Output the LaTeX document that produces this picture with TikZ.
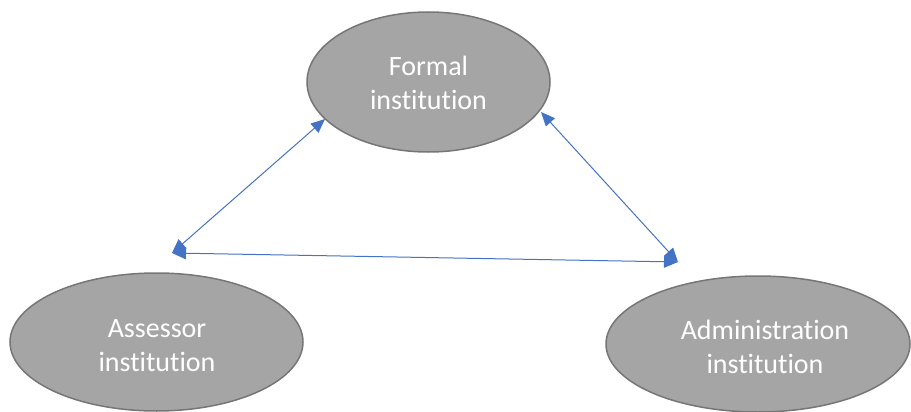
\documentclass[tikz,border=0pt]{standalone}
\usepackage{fontspec}
\setmainfont[Ligatures=NoCommon]{Carlito}
\usetikzlibrary{shapes.geometric,arrows.meta}
\definecolor{ellfill}{HTML}{A5A5A5}
\definecolor{elldraw}{HTML}{767676}
\definecolor{arrblue}{HTML}{4472C4}
\begin{document}
\begin{tikzpicture}[x=1pt,y=-1pt,
  inst/.style={ellipse, draw=elldraw, fill=ellfill, line width=1.5pt, inner sep=0pt},
  lbl/.style={text=white, align=center, font=\fontsize{28}{34}\selectfont, inner sep=0pt},
  link/.style={draw=arrblue, line width=1pt,
    {Triangle[length=14pt,width=12pt]}-{Triangle[length=14pt,width=12pt]}}]
\useasboundingbox (0,0) rectangle (911,412);
\node[inst, minimum width=243pt, minimum height=140pt] (formal) at (428.5,82) {};
\node[inst, minimum width=293pt, minimum height=138pt] (assessor) at (156.5,342) {};
\node[inst, minimum width=304pt, minimum height=136pt] (admin) at (758,344) {};
\node[lbl] (tformal) at (428.5,83) {Formal\\institution};
\node[lbl] (tassessor) at (157,346) {Assessor\\institution};
\node[lbl] (tadmin) at (765,347) {Administration\\institution};
\coordinate (ftl) at (325,119);
\coordinate (ftr) at (541,112);
\coordinate (jl) at (172,253);
\coordinate (jr) at (678,262);
\draw[link] (jl) -- (ftl);
\draw[link] (ftr) -- (jr);
\draw[link] (jl) -- (jr);
\end{tikzpicture}
\end{document}
